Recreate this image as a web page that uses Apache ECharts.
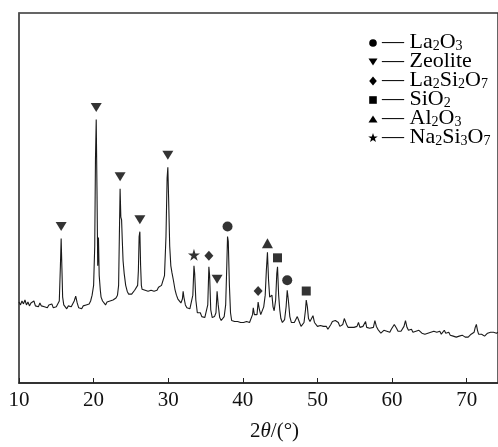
<!DOCTYPE html>
<html><head><meta charset="utf-8">
<script src="https://cdn.jsdelivr.net/npm/echarts@6/dist/echarts.min.js"></script>
<style>html,body{margin:0;padding:0;background:#fff}#c{width:498px;height:447px}</style>
</head><body><div id="c"></div>
<script>
const angle = [10.0,10.2,10.4,10.6,10.8,11.0,11.2,11.4,11.6,11.8,12.0,12.2,12.4,12.6,12.8,13.0,13.2,13.4,13.6,13.8,14.0,14.2,14.4,14.6,14.8,15.0,15.2,15.4,15.55,15.65,15.75,15.85,16.0,16.2,16.4,16.6,16.8,17.0,17.2,17.4,17.6,17.8,18.0,18.2,18.4,18.6,18.8,19.0,19.2,19.4,19.6,19.8,20.0,20.15,20.25,20.35,20.45,20.55,20.65,20.75,20.9,21.0,21.2,21.4,21.6,21.8,22.0,22.2,22.4,22.6,22.8,23.0,23.2,23.35,23.45,23.55,23.65,23.75,23.85,23.95,24.1,24.3,24.5,24.7,24.9,25.1,25.3,25.5,25.7,25.9,26.0,26.1,26.2,26.3,26.4,26.5,26.7,26.9,27.1,27.3,27.5,27.7,27.9,28.1,28.3,28.5,28.7,28.9,29.1,29.3,29.5,29.7,29.85,29.95,30.05,30.2,30.35,30.5,30.7,30.9,31.1,31.3,31.5,31.7,31.9,32.0,32.1,32.3,32.5,32.7,32.9,33.1,33.3,33.45,33.55,33.7,33.9,34.1,34.3,34.5,34.7,34.9,35.1,35.3,35.45,35.55,35.7,35.9,36.0,36.2,36.4,36.55,36.7,36.9,37.1,37.3,37.5,37.7,37.85,37.95,38.05,38.2,38.35,38.5,38.7,38.9,39.1,39.3,39.5,39.7,39.9,40.1,40.3,40.5,40.7,40.9,41.1,41.3,41.4,41.55,41.7,41.9,42.05,42.2,42.4,42.6,42.8,43.0,43.15,43.3,43.45,43.6,43.8,43.9,44.05,44.2,44.4,44.55,44.65,44.8,44.95,45.1,45.3,45.45,45.6,45.8,45.95,46.1,46.3,46.5,46.7,46.9,47.1,47.3,47.4,47.6,47.8,48.0,48.2,48.4,48.5,48.65,48.8,49.0,49.2,49.4,49.6,49.8,50.0,50.2,50.4,50.6,50.8,51.0,51.2,51.4,51.6,51.8,52.0,52.2,52.4,52.6,52.8,53.0,53.2,53.4,53.6,53.75,53.9,54.1,54.3,54.5,54.7,54.9,55.1,55.3,55.5,55.7,55.9,56.1,56.3,56.45,56.6,56.8,57.0,57.2,57.5,57.7,57.9,58.1,58.3,58.5,58.7,58.9,59.1,59.3,59.5,59.7,59.9,60.1,60.3,60.45,60.6,60.8,61.0,61.2,61.4,61.6,61.8,62.0,62.2,62.4,62.6,62.8,63.0,63.2,63.4,63.6,63.8,64.0,64.2,64.4,64.6,64.8,65.0,65.2,65.4,65.6,65.8,66.0,66.2,66.4,66.6,66.8,67.0,67.2,67.4,67.6,67.8,68.0,68.2,68.4,68.6,68.8,69.0,69.2,69.4,69.6,69.8,70.0,70.2,70.4,70.6,70.8,71.0,71.15,71.3,71.45,71.6,71.8,72.0,72.2,72.4,72.6,72.8,73.0,73.2,73.4,73.6,73.8,74.0,74.2];
const counts = [83,80,84,81,85,80,83,79,82,80,84,79,81,78,82,79,81,78,80,77,80,78,81,77,79,78,80,84,120,148,118,88,80,78,76,79,77,78,80,84,89,82,77,79,76,79,78,80,78,81,84,90,100,140,230,270,200,120,149,110,95,88,84,82,80,83,81,84,82,85,84,87,90,100,150,199,170,167,145,125,112,100,94,91,89,91,93,95,97,100,115,150,155,120,100,96,98,95,97,94,96,95,97,94,96,95,98,97,100,102,110,150,210,221,190,140,120,113,105,96,90,86,84,82,86,94,88,80,77,75,76,78,90,120,112,85,72,70,72,68,70,67,69,80,119,110,75,67,65,68,72,94,80,67,64,66,68,80,120,150,145,100,72,64,62,63,61,63,61,62,60,62,61,63,61,62,64,70,77,70,68,70,83,76,70,72,78,90,115,134,105,88,86,90,78,74,85,112,119,90,75,66,62,60,65,78,95,85,68,62,60,62,63,68,70,62,58,57,62,75,85,78,66,63,64,69,62,60,58,57,59,57,58,56,58,55,57,60,63,65,64,63,62,58,57,60,66,68,60,57,56,57,55,57,56,58,62,57,55,58,60,63,57,55,56,58,57,64,58,55,53,51,52,54,52,53,54,52,55,57,60,61,56,53,54,53,55,58,64,57,54,53,55,52,54,53,51,54,52,51,53,50,52,51,53,52,50,53,55,52,51,53,50,52,54,51,50,52,49,51,48,50,47,49,48,47,49,48,47,49,47,48,50,49,52,57,60,54,50,48,50,49,48,50,51,53,52,50,52,50,51,52];
// peak assignments (2θ of marked reflections)
const zeolitePeaks = [15.65, 20.35, 23.55, 26.2, 29.95, 36.55];
const na2si3o7Peaks = [33.45];
const la2si2o7Peaks = [35.45, 42.05];
const la2o3Peaks = [37.95, 45.95];
const al2o3Peaks = [43.3];
const sio2Peaks = [44.65, 48.5];
const xTicks = [10, 20, 30, 40, 50, 60, 70];

const serif = '"Liberation Serif","DejaVu Serif",serif';
function peakHeight(a){
  let best = 0;
  for (let i = 0; i < angle.length; i++) if (Math.abs(angle[i]-a) <= 0.16 && counts[i] > best) best = counts[i];
  return best;
}
function marks(list){ return list.map(a => [a, peakHeight(a)]); }
const starPath = 'path://M50,0 L61.2,34.5 L97.6,34.5 L68.2,55.9 L79.4,90.5 L50,69.1 L20.6,90.5 L31.8,55.9 L2.4,34.5 L38.8,34.5 Z';
function markerSeries(name, list, symbol, size, rotate, off){
  return {type:'scatter', name, data: marks(list), symbol, symbolSize: size, symbolRotate: rotate||0,
    symbolOffset:[0, off], itemStyle:{color:'#000'}, z:5, silent:true};
}
const series = [
  {type:'line', data: angle.map((a,i)=>[a, counts[i]]), showSymbol:false, lineStyle:{color:'#1a1a1a', width:1.1}, silent:true},
  markerSeries('Zeolite', zeolitePeaks, 'triangle', [11,9], 180, -12),
  markerSeries('Na2Si3O7', na2si3o7Peaks, starPath, 12, 0, -11),
  markerSeries('La2Si2O7', la2si2o7Peaks, 'diamond', [9,10], 0, -11),
  markerSeries('La2O3', la2o3Peaks, 'circle', 10, 0, -10),
  markerSeries('Al2O3', al2o3Peaks, 'triangle', [11,10], 0, -9),
  markerSeries('SiO2', sio2Peaks, 'rect', 9, 0, -9)
];

// legend (drawn as graphic decoration with subscripts)
const legendItems = [
  {shape:'circle', text:'— La{s|2}O{s|3}'},
  {shape:'down', text:'— Zeolite'},
  {shape:'diamond', text:'— La{s|2}Si{s|2}O{s|7}'},
  {shape:'rect', text:'— SiO{s|2}'},
  {shape:'up', text:'— Al{s|2}O{s|3}'},
  {shape:'star', text:'— Na{s|2}Si{s|3}O{s|7}'}
];
const lx = 373, ly0 = 43, ldy = 19;
const graphics = [];
legendItems.forEach((it, k) => {
  const cy = ly0 + k*ldy;
  let g;
  if (it.shape === 'circle') g = {type:'circle', shape:{cx:lx, cy, r:3.8}};
  else if (it.shape === 'down') g = {type:'polygon', shape:{points:[[lx-4.5,cy-3.5],[lx+4.5,cy-3.5],[lx,cy+3.5]]}};
  else if (it.shape === 'up') g = {type:'polygon', shape:{points:[[lx-4.5,cy+3.5],[lx+4.5,cy+3.5],[lx,cy-3.5]]}};
  else if (it.shape === 'diamond') g = {type:'polygon', shape:{points:[[lx,cy-4.5],[lx+3.8,cy],[lx,cy+4.5],[lx-3.8,cy]]}};
  else if (it.shape === 'rect') g = {type:'rect', shape:{x:lx-3.8, y:cy-3.8, width:7.6, height:7.6}};
  else {
    const pts = [];
    for (let j = 0; j < 10; j++) { const r = j%2 ? 2 : 5; const t = -Math.PI/2 + j*Math.PI/5; pts.push([lx + r*Math.cos(t), cy + r*Math.sin(t)]); }
    g = {type:'polygon', shape:{points:pts}};
  }
  g.style = {fill:'#000'}; g.silent = true;
  graphics.push(g);
  graphics.push({type:'text', left: 382, top: cy-12, silent:true,
    style:{text: it.text, font: '22px ' + serif, fill:'#000', lineHeight:22,
      rich:{s:{fontSize:14, fontFamily: serif, verticalAlign:'bottom', lineHeight:7, fill:'#000'}}}});
});

const chart = echarts.init(document.getElementById('c'), null, {renderer:'canvas'});
chart.setOption({
  animation:false,
  backgroundColor:'#fff',
  grid:{left:19, right:-6, top:13, bottom:55, show:true, borderColor:'#333', borderWidth:1.5},
  xAxis:{type:'value', min:10, max:74.2, interval:10,
    axisLine:{show:true, lineStyle:{color:'#222', width:1.5}},
    axisTick:{show:true, inside:true, length:5, lineStyle:{color:'#222', width:1}},
    splitLine:{show:false},
    axisLabel:{color:'#111', fontFamily:serif, fontSize:21, margin:7, showMaxLabel:false,
      formatter: v => (xTicks.indexOf(v) >= 0 ? String(v) : '')},
    name:'2{i|θ}/(°)', nameLocation:'middle', nameGap:38,
    nameTextStyle:{color:'#111', fontFamily:serif, fontSize:21, padding:[0,0,0,32],
      rich:{i:{fontStyle:'italic', fontFamily:serif, fontSize:21, color:'#111'}}}
  },
  yAxis:{type:'value', min:0, max:379, axisLine:{show:true, lineStyle:{color:'#555', width:1.5}},
    axisTick:{show:false}, axisLabel:{show:false}, splitLine:{show:false}},
  series,
  graphic: graphics
});
</script></body></html>
